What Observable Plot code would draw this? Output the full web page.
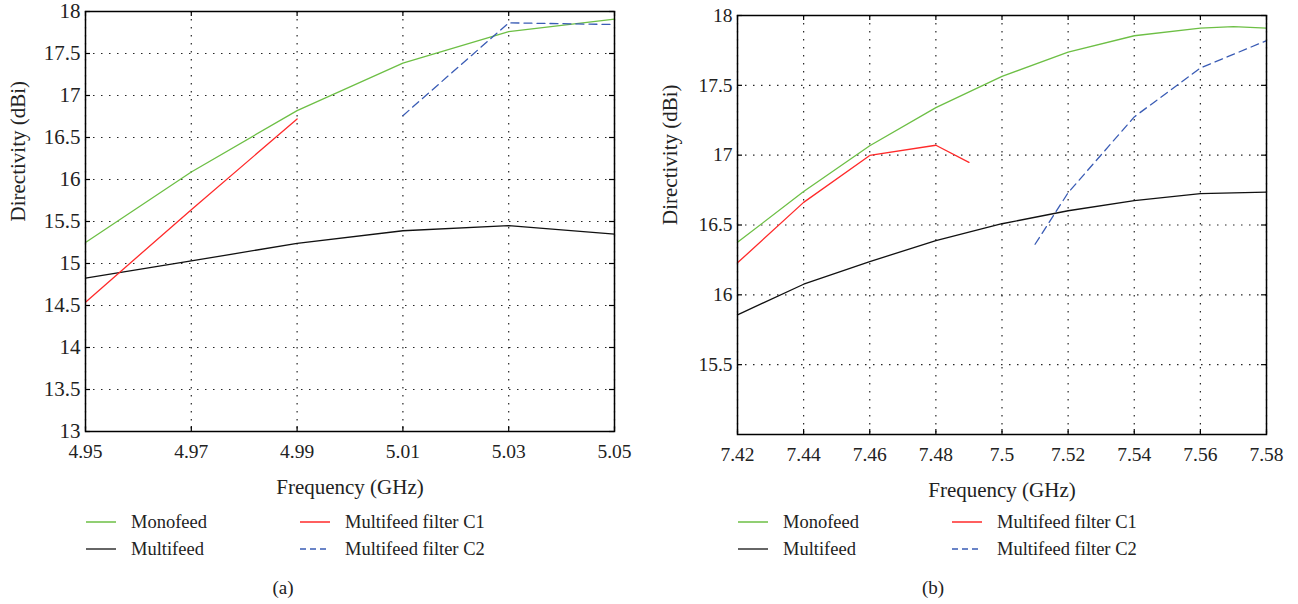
<!DOCTYPE html>
<html><head><meta charset="utf-8">
<script src="https://cdn.jsdelivr.net/npm/d3@7"></script>
<script src="https://cdn.jsdelivr.net/npm/@observablehq/plot@0.6"></script>
<style>
body{margin:0;background:#fff;font-family:"Liberation Serif",serif;}
#wrap{position:relative;width:1298px;height:604px;overflow:hidden;background:#fff;}
.panel{position:absolute;top:0;}
.leg{position:absolute;font-size:18.5px;color:#222;white-space:nowrap;line-height:18px;display:flex;align-items:center;}
.leg svg{margin-right:15px;}
.cap{position:absolute;font-size:19px;color:#222;transform:translateX(-50%);}
</style>
</head><body>
<div id="wrap"></div>
<script>
// ---- Panel (a) data ----
const freqA = [4.95, 4.97, 4.99, 5.01, 5.03, 5.05];
const monoA = [15.25, 16.09, 16.82, 17.385, 17.76, 17.91];
const multiA = [14.825, 15.03, 15.24, 15.39, 15.45, 15.35];
const c1FreqA = [4.95, 4.97, 4.99];
const c1A = [14.54, 15.64, 16.72];
const c2FreqA = [5.01, 5.03, 5.05];
const c2A = [16.76, 17.865, 17.845];
const xTicksA = [4.95, 4.97, 4.99, 5.01, 5.03, 5.05];
const yTicksA = [13, 13.5, 14, 14.5, 15, 15.5, 16, 16.5, 17, 17.5, 18];

// ---- Panel (b) data ----
const monoFreqB = [7.42, 7.44, 7.46, 7.48, 7.50, 7.52, 7.54, 7.56, 7.57, 7.58];
const monoB = [16.376, 16.74, 17.067, 17.34, 17.564, 17.738, 17.855, 17.91, 17.92, 17.91];
const multiFreqB = [7.42, 7.44, 7.46, 7.48, 7.50, 7.52, 7.54, 7.56, 7.58];
const multiB = [15.857, 16.076, 16.238, 16.388, 16.509, 16.602, 16.674, 16.724, 16.736];
const c1FreqB = [7.42, 7.44, 7.46, 7.48, 7.49];
const c1B = [16.229, 16.662, 16.998, 17.071, 16.948];
const c2FreqB = [7.51, 7.52, 7.54, 7.56, 7.58];
const c2B = [16.362, 16.731, 17.274, 17.624, 17.82];
const xTicksB = [7.42, 7.44, 7.46, 7.48, 7.5, 7.52, 7.54, 7.56, 7.58];
const yTicksB = [15.5, 16, 16.5, 17, 17.5, 18];

const xLabel = "Frequency (GHz)";
const yLabel = "Directivity (dBi)";
const seriesNames = ["Monofeed", "Multifeed", "Multifeed filter C1", "Multifeed filter C2"];
const seriesColors = ["#6dbf45", "#111111", "#ff2a2a", "#3a5cb5"];
const legendSwatch = ["#6dbf45", "#333333", "#ff2a2a", "#3a5cb5"];
const seriesDash = [null, null, null, "8,5"];

const toRows = (xs, ys) => xs.map((x, i) => ({x, y: ys[i]}));

function panel(cfg) {
  const {width, height, mL, mR, mT, mB, xDomain, xTicks, yDomain, yTicks, series, yFont} = cfg;
  const innerH = height - mT - mB, innerW = width - mL - mR, tk = 5;
  const fmt = d => String(d);
  const lines = series.map((s, i) => Plot.line(s, {
    x: "x", y: "y", stroke: seriesColors[i], strokeWidth: 1.3,
    strokeDasharray: seriesDash[i] || undefined
  }));
  return Plot.plot({
    width, height, marginLeft: mL, marginRight: mR, marginTop: mT, marginBottom: mB,
    style: {fontFamily: "'Liberation Serif', serif", fontSize: "19.5px", color: "#222", background: "transparent", overflow: "visible"},
    x: {domain: xDomain},
    y: {domain: yDomain},
    marks: [
      Plot.gridX(xTicks, {stroke: "#000", strokeOpacity: 0.85, strokeWidth: 1.2, strokeDasharray: "1.5,6.5"}),
      Plot.gridY(yTicks, {stroke: "#000", strokeOpacity: 0.85, strokeWidth: 1.2, strokeDasharray: "1.5,6.5"}),
      ...lines,
      Plot.tickX(xTicks, {x: d => d, insetBottom: innerH - tk, stroke: "#000", strokeWidth: 1.2}),
      Plot.tickX(xTicks, {x: d => d, insetTop: innerH - tk, stroke: "#000", strokeWidth: 1.2}),
      Plot.tickY(yTicks, {y: d => d, insetRight: innerW - tk, stroke: "#000", strokeWidth: 1.2}),
      Plot.tickY(yTicks, {y: d => d, insetLeft: innerW - tk, stroke: "#000", strokeWidth: 1.2}),
      Plot.frame({stroke: "#000", strokeWidth: 1.5}),
      Plot.axisX(xTicks, {tickSize: 0, tickPadding: 13, tickFormat: fmt, label: null, fontSize: 19.5}),
      Plot.axisY(yTicks, {tickSize: 0, tickPadding: 5, tickFormat: fmt, label: null, fontSize: yFont}),
      Plot.text([xLabel], {text: d => d, frameAnchor: "bottom", dy: 62, fontSize: 21, fill: "#222"}),
      Plot.text([yLabel], {text: d => d, frameAnchor: "left", dx: -67, rotate: -90, fontSize: 21, fill: "#222"})
    ]
  });
}

const wrap = document.getElementById("wrap");

const panels = [
  {left: 0, cfg: {width: 649, height: 500, mL: 85, mR: 35, mT: 11, mB: 69, yFont: 21,
    xDomain: [4.95, 5.05], xTicks: xTicksA, yDomain: [13, 18], yTicks: yTicksA,
    series: [toRows(freqA, monoA), toRows(freqA, multiA), toRows(c1FreqA, c1A), toRows(c2FreqA, c2A)]},
   legendX: [86, 300], caption: "(a)", capX: 283},
  {left: 649, cfg: {width: 649, height: 500, mL: 88, mR: 32, mT: 15, mB: 66, yFont: 19.5,
    xDomain: [7.42, 7.58], xTicks: xTicksB, yDomain: [15, 18], yTicks: yTicksB,
    series: [toRows(monoFreqB, monoB), toRows(multiFreqB, multiB), toRows(c1FreqB, c1B), toRows(c2FreqB, c2B)]},
   legendX: [738, 952], caption: "(b)", capX: 933}
];

const legendRows = [522, 549];

for (const p of panels) {
  const svg = panel(p.cfg);
  svg.classList.add("panel");
  svg.style.left = p.left + "px";
  wrap.appendChild(svg);
  seriesNames.forEach((name, i) => {
    const col = Math.floor(i / 2), row = i % 2;
    const div = document.createElement("div");
    div.className = "leg";
    div.style.left = p.legendX[col] + "px";
    div.style.top = (legendRows[row] - 9) + "px";
    const dash = seriesDash[i] ? ` stroke-dasharray="6,4"` : "";
    div.innerHTML = `<svg width="30" height="10"><line x1="0" x2="30" y1="5" y2="5" stroke="${legendSwatch[i]}" stroke-width="1.5"${dash}/></svg><span>${name}</span>`;
    wrap.appendChild(div);
  });
  const cap = document.createElement("div");
  cap.className = "cap";
  cap.style.left = p.capX + "px";
  cap.style.top = "577px";
  cap.textContent = p.caption;
  wrap.appendChild(cap);
}
</script>
</body></html>
